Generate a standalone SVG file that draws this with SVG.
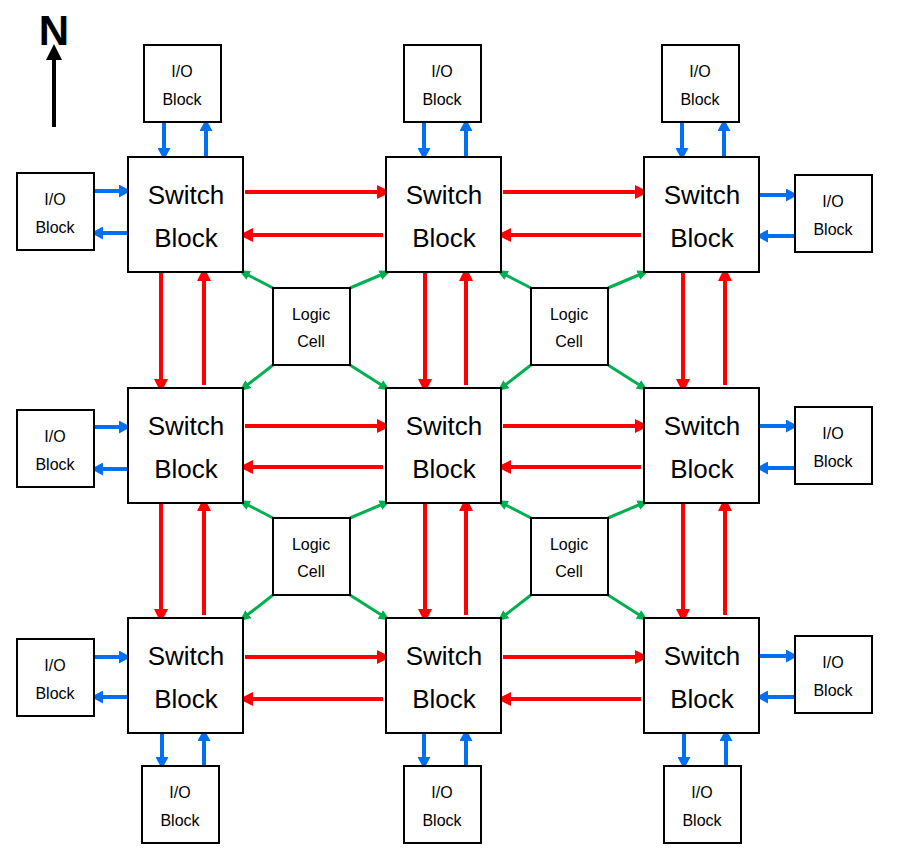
<svg xmlns="http://www.w3.org/2000/svg" width="905" height="864" viewBox="0 0 905 864">
<style>
.box{fill:#fff;stroke:#000;stroke-width:2}
.t{font-family:"Liberation Sans",Arial,sans-serif;text-anchor:middle;fill:#000}
.sb{font-size:26px}
.sm{font-size:16px}
.r{stroke:#ff0000;stroke-width:4;fill:none;marker-end:url(#ar)}
.b{stroke:#0070f0;stroke-width:4;fill:none;marker-end:url(#ab)}
.g{stroke:#00b050;stroke-width:3;fill:none;marker-end:url(#ag)}
</style>
<defs>
<marker id="ar" markerUnits="userSpaceOnUse" viewBox="0 0 14 14" refX="4" refY="7" markerWidth="14" markerHeight="14" orient="auto"><path d="M0,0 L14,7 L0,14 z" fill="#ff0000"/></marker>
<marker id="ab" markerUnits="userSpaceOnUse" viewBox="0 0 12 13" refX="4" refY="6.5" markerWidth="12" markerHeight="13" orient="auto"><path d="M0,0 L12,6.5 L0,13 z" fill="#0070f0"/></marker>
<marker id="ag" markerUnits="userSpaceOnUse" viewBox="0 0 11 10" refX="3" refY="5" markerWidth="11" markerHeight="10" orient="auto"><path d="M0,0 L11,5 L0,10 z" fill="#00b050"/></marker>
<marker id="ak" markerUnits="userSpaceOnUse" viewBox="0 0 16 16" refX="4" refY="8" markerWidth="16" markerHeight="16" orient="auto"><path d="M0,0 L16,8 L0,16 z" fill="#000"/></marker>
</defs>

<g id="north">
<text class="t" x="54" y="45" font-size="42" font-weight="bold">N</text>
<line x1="54" y1="127" x2="54" y2="56" stroke="#000" stroke-width="4" marker-end="url(#ak)"/>
</g>

<g id="connectors">
<!-- red horizontal -->
<line class="r" x1="245" y1="192" x2="381" y2="192"/>
<line class="r" x1="383" y1="235" x2="249" y2="235"/>
<line class="r" x1="503" y1="192" x2="639" y2="192"/>
<line class="r" x1="641" y1="235" x2="507" y2="235"/>
<line class="r" x1="245" y1="426" x2="381" y2="426"/>
<line class="r" x1="383" y1="467" x2="249" y2="467"/>
<line class="r" x1="503" y1="426" x2="639" y2="426"/>
<line class="r" x1="641" y1="467" x2="507" y2="467"/>
<line class="r" x1="245" y1="657" x2="381" y2="657"/>
<line class="r" x1="383" y1="699" x2="249" y2="699"/>
<line class="r" x1="503" y1="657" x2="639" y2="657"/>
<line class="r" x1="641" y1="699" x2="507" y2="699"/>
<!-- red vertical -->
<line class="r" x1="161" y1="273" x2="161" y2="383"/>
<line class="r" x1="204" y1="385" x2="204" y2="277"/>
<line class="r" x1="425" y1="273" x2="425" y2="383"/>
<line class="r" x1="466" y1="385" x2="466" y2="277"/>
<line class="r" x1="683" y1="273" x2="683" y2="383"/>
<line class="r" x1="725" y1="385" x2="725" y2="277"/>
<line class="r" x1="161" y1="503" x2="161" y2="613"/>
<line class="r" x1="204" y1="615" x2="204" y2="507"/>
<line class="r" x1="425" y1="503" x2="425" y2="613"/>
<line class="r" x1="466" y1="615" x2="466" y2="507"/>
<line class="r" x1="683" y1="503" x2="683" y2="613"/>
<line class="r" x1="725" y1="615" x2="725" y2="507"/>
<!-- blue top -->
<line class="b" x1="164" y1="123" x2="164" y2="152"/>
<line class="b" x1="206" y1="156" x2="206" y2="127"/>
<line class="b" x1="424" y1="123" x2="424" y2="152"/>
<line class="b" x1="466" y1="156" x2="466" y2="127"/>
<line class="b" x1="682" y1="123" x2="682" y2="152"/>
<line class="b" x1="724" y1="156" x2="724" y2="127"/>
<!-- blue bottom -->
<line class="b" x1="162" y1="733" x2="162" y2="761"/>
<line class="b" x1="204" y1="765" x2="204" y2="737"/>
<line class="b" x1="424" y1="733" x2="424" y2="761"/>
<line class="b" x1="466" y1="765" x2="466" y2="737"/>
<line class="b" x1="684" y1="733" x2="684" y2="761"/>
<line class="b" x1="726" y1="765" x2="726" y2="737"/>
<!-- blue left -->
<line class="b" x1="95" y1="191" x2="123" y2="191"/>
<line class="b" x1="127" y1="233" x2="99" y2="233"/>
<line class="b" x1="95" y1="427" x2="123" y2="427"/>
<line class="b" x1="127" y1="469" x2="99" y2="469"/>
<line class="b" x1="95" y1="657" x2="123" y2="657"/>
<line class="b" x1="127" y1="697" x2="99" y2="697"/>
<!-- blue right -->
<line class="b" x1="760" y1="195" x2="790" y2="195"/>
<line class="b" x1="794" y1="236" x2="764" y2="236"/>
<line class="b" x1="760" y1="426" x2="790" y2="426"/>
<line class="b" x1="794" y1="468" x2="764" y2="468"/>
<line class="b" x1="760" y1="656" x2="790" y2="656"/>
<line class="b" x1="794" y1="697" x2="764" y2="697"/>
<!-- green -->
<line class="g" x1="273" y1="288" x2="246" y2="274"/>
<line class="g" x1="350" y1="288" x2="383" y2="274"/>
<line class="g" x1="273" y1="365" x2="246" y2="386"/>
<line class="g" x1="350" y1="365" x2="383" y2="386"/>
<line class="g" x1="531" y1="288" x2="504" y2="274"/>
<line class="g" x1="608" y1="288" x2="641" y2="274"/>
<line class="g" x1="531" y1="365" x2="504" y2="386"/>
<line class="g" x1="608" y1="365" x2="641" y2="386"/>
<line class="g" x1="273" y1="518" x2="246" y2="504"/>
<line class="g" x1="350" y1="518" x2="383" y2="504"/>
<line class="g" x1="273" y1="595" x2="246" y2="616"/>
<line class="g" x1="350" y1="595" x2="383" y2="616"/>
<line class="g" x1="531" y1="518" x2="504" y2="504"/>
<line class="g" x1="608" y1="518" x2="641" y2="504"/>
<line class="g" x1="531" y1="595" x2="504" y2="616"/>
<line class="g" x1="608" y1="595" x2="641" y2="616"/>
</g>

<g id="sb11"><rect class="box" x="128" y="157" width="115" height="115"/><text class="t sb" x="186" y="204">Switch</text><text class="t sb" x="186" y="247">Block</text></g>
<g id="sb12"><rect class="box" x="386" y="157" width="115" height="115"/><text class="t sb" x="444" y="204">Switch</text><text class="t sb" x="444" y="247">Block</text></g>
<g id="sb13"><rect class="box" x="644" y="157" width="115" height="115"/><text class="t sb" x="702" y="204">Switch</text><text class="t sb" x="702" y="247">Block</text></g>
<g id="sb21"><rect class="box" x="128" y="388" width="115" height="115"/><text class="t sb" x="186" y="435">Switch</text><text class="t sb" x="186" y="478">Block</text></g>
<g id="sb22"><rect class="box" x="386" y="388" width="115" height="115"/><text class="t sb" x="444" y="435">Switch</text><text class="t sb" x="444" y="478">Block</text></g>
<g id="sb23"><rect class="box" x="644" y="388" width="115" height="115"/><text class="t sb" x="702" y="435">Switch</text><text class="t sb" x="702" y="478">Block</text></g>
<g id="sb31"><rect class="box" x="128" y="618" width="115" height="115"/><text class="t sb" x="186" y="665">Switch</text><text class="t sb" x="186" y="708">Block</text></g>
<g id="sb32"><rect class="box" x="386" y="618" width="115" height="115"/><text class="t sb" x="444" y="665">Switch</text><text class="t sb" x="444" y="708">Block</text></g>
<g id="sb33"><rect class="box" x="644" y="618" width="115" height="115"/><text class="t sb" x="702" y="665">Switch</text><text class="t sb" x="702" y="708">Block</text></g>

<g id="lc1"><rect class="box" x="273" y="288" width="77" height="77"/><text class="t sm" x="311" y="320">Logic</text><text class="t sm" x="311" y="347">Cell</text></g>
<g id="lc2"><rect class="box" x="531" y="288" width="77" height="77"/><text class="t sm" x="569" y="320">Logic</text><text class="t sm" x="569" y="347">Cell</text></g>
<g id="lc3"><rect class="box" x="273" y="518" width="77" height="77"/><text class="t sm" x="311" y="550">Logic</text><text class="t sm" x="311" y="577">Cell</text></g>
<g id="lc4"><rect class="box" x="531" y="518" width="77" height="77"/><text class="t sm" x="569" y="550">Logic</text><text class="t sm" x="569" y="577">Cell</text></g>

<g id="io_t1"><rect class="box" x="144" y="45" width="77" height="77"/><text class="t sm" x="182" y="77">I/O</text><text class="t sm" x="182" y="105">Block</text></g>
<g id="io_t2"><rect class="box" x="404" y="45" width="77" height="77"/><text class="t sm" x="442" y="77">I/O</text><text class="t sm" x="442" y="105">Block</text></g>
<g id="io_t3"><rect class="box" x="662" y="45" width="77" height="77"/><text class="t sm" x="700" y="77">I/O</text><text class="t sm" x="700" y="105">Block</text></g>
<g id="io_l1"><rect class="box" x="17" y="173" width="77" height="77"/><text class="t sm" x="55" y="205">I/O</text><text class="t sm" x="55" y="233">Block</text></g>
<g id="io_l2"><rect class="box" x="17" y="410" width="77" height="77"/><text class="t sm" x="55" y="442">I/O</text><text class="t sm" x="55" y="470">Block</text></g>
<g id="io_l3"><rect class="box" x="17" y="639" width="77" height="77"/><text class="t sm" x="55" y="671">I/O</text><text class="t sm" x="55" y="699">Block</text></g>
<g id="io_r1"><rect class="box" x="795" y="175" width="77" height="77"/><text class="t sm" x="833" y="207">I/O</text><text class="t sm" x="833" y="235">Block</text></g>
<g id="io_r2"><rect class="box" x="795" y="407" width="77" height="77"/><text class="t sm" x="833" y="439">I/O</text><text class="t sm" x="833" y="467">Block</text></g>
<g id="io_r3"><rect class="box" x="795" y="636" width="77" height="77"/><text class="t sm" x="833" y="668">I/O</text><text class="t sm" x="833" y="696">Block</text></g>
<g id="io_b1"><rect class="box" x="142" y="766" width="77" height="77"/><text class="t sm" x="180" y="798">I/O</text><text class="t sm" x="180" y="826">Block</text></g>
<g id="io_b2"><rect class="box" x="404" y="766" width="77" height="77"/><text class="t sm" x="442" y="798">I/O</text><text class="t sm" x="442" y="826">Block</text></g>
<g id="io_b3"><rect class="box" x="664" y="766" width="77" height="77"/><text class="t sm" x="702" y="798">I/O</text><text class="t sm" x="702" y="826">Block</text></g>
</svg>
